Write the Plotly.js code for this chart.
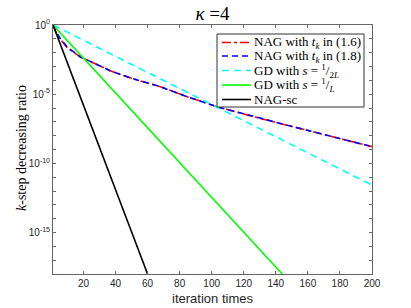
<!DOCTYPE html>
<html>
<head>
<meta charset="utf-8">
<script src="https://cdn.plot.ly/plotly-3.0.1.min.js"></script>
<style>html,body{margin:0;padding:0;background:#fff;}#chart{width:411px;height:308px;}</style>
</head>
<body>
<div id="chart"></div>
<script>
// iteration numbers and values
const nagK = [1, 3, 5.4, 10, 17.9, 20, 30.4, 36.6, 50, 67.9, 85, 104.8, 130, 149, 167, 200];
const nag16 = [1, 0.28, 0.095, 0.022, 5.0e-3, 3.9e-3, 1.1e-3, 5.0e-4, 1.4e-4, 3.5e-5, 6.3e-6, 1.1e-6, 1.8e-7, 5.0e-8, 1.5e-8, 1.6e-9];
const nag18 = [1, 0.32, 0.11, 0.025, 5.1e-3, 4.0e-3, 1.1e-3, 5.0e-4, 1.4e-4, 3.5e-5, 6.3e-6, 1.1e-6, 1.8e-7, 5.0e-8, 1.5e-8, 1.6e-9];
const gdHalfK = [1, 200];
const gdHalf = [1, 2.7e-12];
const gdOneK = [1, 144];
const gdOne = [1, 1e-18];
const nagScK = [1, 60];
const nagSc = [1, 1e-18];

const xTicks = [20, 40, 60, 80, 100, 120, 140, 160, 180, 200];
const yExp = [0,-1,-2,-3,-4,-5,-6,-7,-8,-9,-10,-11,-12,-13,-14,-15,-16,-17,-18];
const yLabelExp = [0, -5, -10, -15];

const legendText = [
  'NAG with <i>t<sub>k</sub></i> in (1.6)',
  'NAG with <i>t<sub>k</sub></i> in (1.8)',
  'GD with <i>s</i> = <sup>1</sup>/<sub>2<i>L</i></sub>',
  'GD with <i>s</i> = <sup>1</sup>/<sub><i>L</i></sub>',
  'NAG-sc'
];
const colors = ['#ff0000', '#0000ff', '#00ffff', '#00ff00', '#000000'];
const dashes = ['dashdot', '6px,4px', '7px,5px', 'solid', 'solid'];

const series = [[nagK, nag16], [nagK, nag18], [gdHalfK, gdHalf], [gdOneK, gdOne], [nagScK, nagSc]];
const traces = series.map((s, i) => ({
  x: s[0], y: s[1], name: legendText[i], mode: 'lines', showlegend: false,
  line: {color: colors[i], width: 1.6, dash: dashes[i]}
}));

const yMajorVals = yLabelExp.map(e => Math.pow(10, e));
const yMajorText = yLabelExp.map(e => '10<sup>' + e + '</sup>');
const yMinorVals = yExp.filter(e => !yLabelExp.includes(e)).map(e => Math.pow(10, e));

// legend box drawn by hand (pixel -> paper conversion)
const L = 53, T = 25, W = 319, H = 249;
const px = x => (x - L) / W;
const py = y => (T + H - y) / H;
const rowY = [42.5, 56, 70.5, 85, 99.5];
const serif = 'Liberation Serif, DejaVu Serif, serif';
const shapes = [{type: 'rect', xref: 'paper', yref: 'paper', x0: px(217), x1: px(364), y0: py(34), y1: py(107),
  line: {color: '#333', width: 1}, fillcolor: '#ffffff', layer: 'above'}];
const annotations = [];
legendText.forEach((t, i) => {
  shapes.push({type: 'line', xref: 'paper', yref: 'paper', x0: px(222), x1: px(251), y0: py(rowY[i]), y1: py(rowY[i]),
    line: {color: colors[i], width: 1.6, dash: dashes[i]}, layer: 'above'});
  annotations.push({xref: 'paper', yref: 'paper', x: px(253), y: py(rowY[i]), xanchor: 'left', yanchor: 'middle',
    text: t, showarrow: false, borderpad: 0, font: {family: serif, size: 13, color: '#000'}});
});

// y-axis title placed to match the reference position
annotations.push({xref: 'paper', yref: 'paper', x: px(21), y: py(148), xanchor: 'center', yanchor: 'middle', textangle: -90,
  text: '<i>k</i>-step decreasing ratio', showarrow: false, font: {family: serif, size: 14, color: '#000'}});

const layout = {
  width: 411, height: 308,
  margin: {l: 53, r: 39, t: 25, b: 34},
  paper_bgcolor: '#ffffff', plot_bgcolor: '#ffffff',
  showlegend: false,
  title: {text: '<i>κ</i> =4', font: {family: serif, size: 19, color: '#000'}, x: 0.5, xref: 'paper', y: 0.958, yref: 'container', yanchor: 'middle'},
  xaxis: {
    type: 'linear', range: [1, 200], tickmode: 'array', tickvals: xTicks, ticktext: xTicks.map(String),
    ticks: 'inside', ticklen: 3, tickcolor: '#666', showline: true, linecolor: '#666', linewidth: 1, mirror: 'ticks',
    showgrid: false, zeroline: false,
    tickfont: {family: 'Liberation Sans', size: 10, color: '#262626'},
    title: {text: 'iteration times', font: {family: 'Liberation Sans', size: 13, color: '#262626'}, standoff: 5}
  },
  yaxis: {
    type: 'log', range: [-18, 0], tickmode: 'array', tickvals: yMajorVals, ticktext: yMajorText,
    ticks: 'inside', ticklen: 3, tickcolor: '#666', showline: true, linecolor: '#666', linewidth: 1, mirror: 'ticks',
    showgrid: false, zeroline: false,
    minor: {tickmode: 'array', tickvals: yMinorVals, ticks: 'inside', ticklen: 3, tickcolor: '#666', showgrid: false},
    tickfont: {family: 'Liberation Sans', size: 10, color: '#262626'}
  },
  shapes: shapes,
  annotations: annotations
};

Plotly.newPlot('chart', traces, layout, {staticPlot: true, displayModeBar: false});
</script>
</body>
</html>
